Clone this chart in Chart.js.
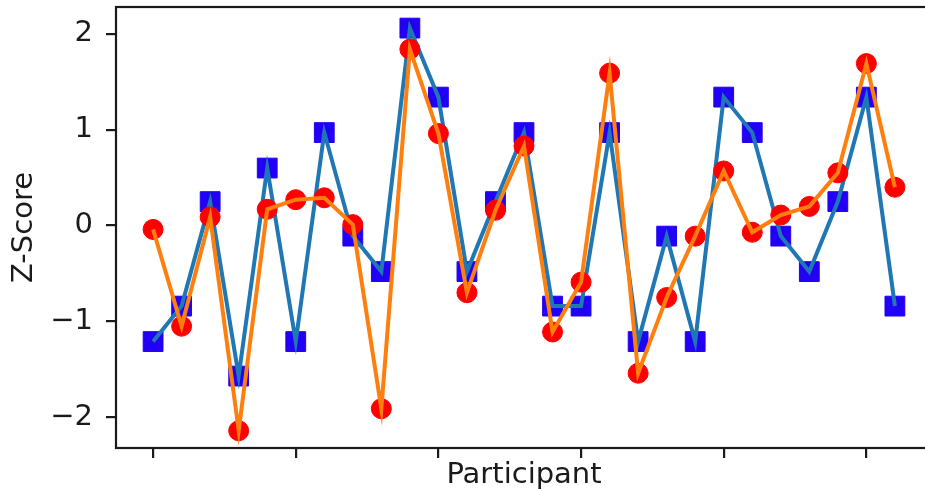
<!DOCTYPE html>
<html>
<head>
<meta charset="utf-8">
<script src="https://cdn.jsdelivr.net/npm/chart.js@4.4.0/dist/chart.umd.min.js"></script>
<style>
  html, body { margin: 0; padding: 0; background: #ffffff; overflow: hidden; }
  #wrap { position: relative; width: 945px; height: 491px; }
</style>
</head>
<body>
<div id="wrap"><canvas id="c"></canvas></div>
<script>
// ---- data ----
const participants = [0, 1, 2, 3, 4, 5, 6, 7, 8, 9, 10, 11, 12, 13, 14, 15, 16, 17, 18, 19, 20, 21, 22, 23, 24, 25, 26];
const seriesA = [-1.21, -0.84, 0.25, -1.57, 0.60, -1.21, 0.97, -0.11, -0.48, 2.06, 1.34, -0.48, 0.25, 0.97, -0.84, -0.84, 0.97, -1.21, -0.11, -1.21, 1.34, 0.97, -0.11, -0.48, 0.25, 1.34, -0.84];
const seriesB = [-0.04, -1.05, 0.09, -2.14, 0.17, 0.27, 0.29, 0.01, -1.91, 1.84, 0.96, -0.70, 0.16, 0.83, -1.11, -0.59, 1.59, -1.54, -0.75, -0.11, 0.57, -0.07, 0.11, 0.20, 0.55, 1.69, 0.40];
const xTickValues = [0, 5, 10, 15, 20, 25];
const yTickValues = [-2, -1, 0, 1, 2];
const yTickLabels = ['\u22122', '\u22121', '0', '1', '2'];
const xTitle = 'Participant';
const yTitle = 'Z-Score';

const ptsA = participants.map((p, i) => ({ x: p, y: seriesA[i] }));
const ptsB = participants.map((p, i) => ({ x: p, y: seriesB[i] }));

const FONT = { family: '"DejaVu Sans", sans-serif', size: 29 };
const INK = '#1a1a1a';

const framePlugin = {
  id: 'frame',
  afterDraw(chart) {
    const { ctx, chartArea: a } = chart;
    ctx.save();
    ctx.strokeStyle = INK;
    ctx.lineWidth = 2.2;
    ctx.strokeRect(a.left, a.top, a.right - a.left, a.bottom - a.top);
    ctx.restore();
  }
};

function noPad(scale) {
  scale.paddingTop = 0; scale.paddingBottom = 0; scale.paddingLeft = 0; scale.paddingRight = 0;
}

new Chart(document.getElementById('c'), {
  type: 'line',
  data: {
    datasets: [
      { data: ptsB, order: 0, showLine: true, borderColor: '#ff7f0e', borderWidth: 4, pointRadius: 0, fill: false, tension: 0 },
      { data: ptsB, order: 1, showLine: false, pointStyle: 'circle', pointRadius: 10, pointBackgroundColor: '#ff0000', pointBorderColor: '#ff0000', pointBorderWidth: 1 },
      { data: ptsA, order: 2, showLine: true, borderColor: '#1f77b4', borderWidth: 4, pointRadius: 0, fill: false, tension: 0 },
      { data: ptsA, order: 3, showLine: false, pointStyle: 'rect', pointRadius: 14, pointBackgroundColor: '#2200f5', pointBorderColor: '#2200f5', pointBorderWidth: 1 }
    ]
  },
  options: {
    responsive: true,
    maintainAspectRatio: false,
    animation: false,
    events: [],
    layout: { autoPadding: false, padding: { top: 7, right: 13, bottom: 0, left: 0 } },
    plugins: { legend: { display: false }, tooltip: { enabled: false } },
    scales: {
      x: {
        type: 'linear',
        min: -1.3,
        max: 27.3,
        afterBuildTicks(scale) { scale.ticks = xTickValues.map(v => ({ value: v })); },
        afterFit(scale) { scale.height = 43; noPad(scale); },
        ticks: { callback: () => '', font: FONT, color: INK },
        grid: { display: true, drawOnChartArea: false, drawTicks: true, tickLength: 10, color: INK, lineWidth: 2.2 },
        border: { display: false },
        title: { display: true, text: xTitle, font: { ...FONT, lineHeight: 1 }, color: INK, padding: { top: 0, bottom: 1 } }
      },
      y: {
        type: 'linear',
        min: -2.32,
        max: 2.28,
        afterBuildTicks(scale) { scale.ticks = yTickValues.map(v => ({ value: v })); },
        afterFit(scale) { scale.width = 116; noPad(scale); },
        ticks: { callback: (v, i) => yTickLabels[i], font: FONT, color: INK, padding: 13 },
        grid: { display: true, drawOnChartArea: false, drawTicks: true, tickLength: 10, color: INK, lineWidth: 2.2 },
        border: { display: false },
        title: { display: true, text: yTitle, font: { ...FONT, lineHeight: 1 }, color: INK, padding: { top: 10, bottom: 0 } }
      }
    }
  },
  plugins: [framePlugin]
});
</script>
</body>
</html>
